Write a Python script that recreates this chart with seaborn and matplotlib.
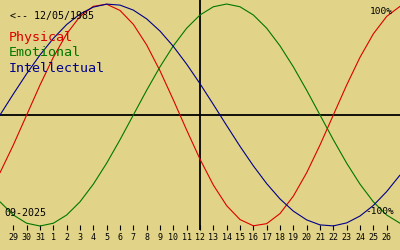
import matplotlib
matplotlib.use("Agg")
import matplotlib.pyplot as plt
import seaborn as sns
import pandas as pd

# Day labels for the visible ticks (29 Aug .. 26 Sep 2025)
tick_labels = ['29', '30', '31'] + [str(d) for d in range(1, 27)]
# Curve sample days: one extra day on each side (28 Aug .. 27 Sep)
day_index = list(range(-1, 30))

physical = [-0.52, -0.27, 0.0, 0.27, 0.52, 0.731, 0.888, 0.979, 0.998, 0.942,
            0.817, 0.631, 0.398, 0.136, -0.136, -0.398, -0.631, -0.817, -0.942, -0.998,
            -0.979, -0.888, -0.731, -0.52, -0.27, 0.0, 0.27, 0.52, 0.731, 0.888, 0.979]
emotional = [-0.782, -0.901, -0.975, -1.0, -0.975, -0.901, -0.782, -0.623, -0.434, -0.223,
             0.0, 0.223, 0.434, 0.623, 0.782, 0.901, 0.975, 1.0, 0.975, 0.901,
             0.782, 0.623, 0.434, 0.223, 0.0, -0.223, -0.434, -0.623, -0.782, -0.901, -0.975]
intellectual = [0.0, 0.189, 0.372, 0.541, 0.69, 0.815, 0.91, 0.972, 0.999, 0.99,
                0.945, 0.866, 0.756, 0.618, 0.458, 0.282, 0.095, -0.095, -0.282, -0.458,
                -0.618, -0.756, -0.866, -0.945, -0.99, -0.999, -0.972, -0.91, -0.815, -0.69, -0.541]

birth_text = "<-- 12/05/1985"
month_text = "09-2025"
series_names = ["Physical", "Emotional", "Intellectual"]
colors = ["#dd0000", "#007700", "#000088"]
bg = "#e1d388"
mono = "DejaVu Sans Mono"

df = pd.DataFrame({"day": day_index, "Physical": physical,
                   "Emotional": emotional, "Intellectual": intellectual})

sns.set_theme(style="white")
plt.rcParams['font.family'] = [mono, 'DejaVu Sans']

fig = plt.figure(figsize=(4, 2.5), dpi=100, facecolor=bg)
ax = fig.add_axes([0, 20 / 250, 1, 230 / 250])
ax.set_facecolor(bg)

for name, c in zip(series_names, colors):
    sns.lineplot(data=df, x="day", y=name, color=c, linewidth=0.8, ax=ax, legend=False)

ax.axhline(0, color="black", lw=1.3, zorder=1)
ax.axvline(14, color="black", lw=1.3, zorder=1)

ax.set_xlim(-1, 29)
ax.set_ylim(-115 / 111, 115 / 111)
ax.set_xlabel("")
ax.set_ylabel("")
ax.set_xticks(range(len(tick_labels)))
ax.set_xticklabels(tick_labels, fontsize=6, family=mono)
ax.set_yticks([])
ax.tick_params(axis="x", direction="in", length=3.8, width=0.8, color="black",
               pad=2.5, bottom=True, labelcolor="black")
for s in ax.spines.values():
    s.set_visible(False)
ax.grid(False)

def ftext(px, py, s, size, color="black", ha="left"):
    fig.text(px / 400, 1 - py / 250, s, fontsize=size, color=color, ha=ha,
             va="center", family=mono)

ftext(10, 16, birth_text, 7.2)
ftext(9, 38, series_names[0], 9.6, colors[0])
ftext(9, 53, series_names[1], 9.6, colors[1])
ftext(9, 68, series_names[2], 9.6, colors[2])
ftext(393, 12, "100%", 6.8, ha="right")
ftext(394, 212, "-100%", 6.8, ha="right")
ftext(4, 213, month_text, 7.2)

fig.savefig("out.png", dpi=100, facecolor=bg)
